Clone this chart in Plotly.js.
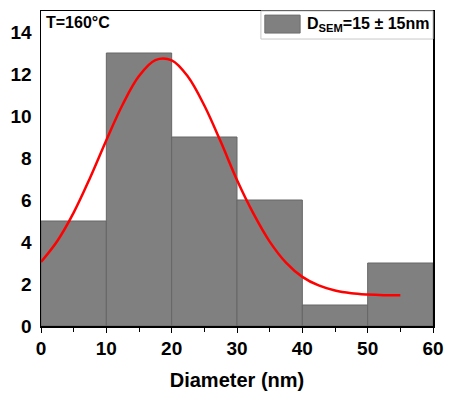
<!DOCTYPE html>
<html>
<head>
<meta charset="utf-8">
<script src="https://cdn.plot.ly/plotly-3.0.1.min.js"></script>
<style>html,body{margin:0;padding:0;background:#fff;}#chart{width:450px;height:402px;}</style>
</head>
<body>
<div id="chart"></div>
<script>
// Histogram bins (nm) and counts
const binCenters = [5, 15, 25, 35, 45, 55];
const counts = [5, 13, 9, 6, 1, 3];

// Fitted curve
const fitX = [0, 2.5, 5, 7.5, 10, 12.5, 15, 17.5, 20, 22.5, 25, 27.5, 30, 32.5, 35, 37.5, 40, 42.5, 45, 47.5, 50, 52.5, 55];
const fitY = [3.05, 4.05, 5.4, 7.05, 8.85, 10.55, 11.9, 12.66, 12.65, 11.87, 10.5, 8.78, 6.95, 5.36, 4.02, 3.02, 2.34, 1.93, 1.69, 1.56, 1.5, 1.47, 1.46];

const xTicks = [0, 10, 20, 30, 40, 50, 60];
const yTicks = [0, 2, 4, 6, 8, 10, 12, 14];

const font = 'Liberation Sans, Arial, sans-serif';

const traces = [
  {
    type: 'bar', x: binCenters, y: counts, width: 10,
    marker: {color: '#808080', line: {color: '#666666', width: 1}},
    showlegend: false, hoverinfo: 'x+y'
  },
  {
    type: 'scatter', mode: 'lines', x: fitX, y: fitY,
    line: {color: '#ff0000', width: 2.5, shape: 'spline'},
    showlegend: false
  }
];

const layout = {
  width: 450, height: 402,
  margin: {l: 41, r: 17, t: 11, b: 76},
  paper_bgcolor: '#ffffff', plot_bgcolor: '#ffffff',
  bargap: 0,
  font: {family: font, color: '#000'},
  xaxis: {
    range: [0, 60], tickvals: xTicks, ticktext: xTicks.map(String),
    showgrid: false, zeroline: false,
    showline: true, linecolor: '#000', linewidth: 1.5, mirror: true,
    ticks: 'outside', ticklen: 5, tickwidth: 1, tickcolor: '#000',
    minor: {dtick: 5, ticks: 'outside', ticklen: 4, tickwidth: 1, tickcolor: '#000'},
    tickfont: {family: font, size: 19, color: '#000', weight: 'bold'},
    title: {text: '<b>Diameter (nm)</b>', font: {family: font, size: 20, color: '#000'}, standoff: 14}
  },
  yaxis: {
    range: [0, 15], tickvals: yTicks, ticktext: yTicks.map(String),
    showgrid: false, zeroline: false,
    showline: true, linecolor: '#000', linewidth: 1.5, mirror: true,
    ticks: '', ticklabelstandoff: 4,
    tickfont: {family: font, size: 19, color: '#000', weight: 'bold'}
  },
  shapes: [
    {type: 'rect', xref: 'paper', yref: 'paper', x0: 0.561, x1: 1, y0: 0.911, y1: 1,
     line: {color: '#c8c8c8', width: 1}, fillcolor: '#ffffff', layer: 'above'},
    {type: 'rect', xref: 'paper', yref: 'paper', x0: 0.571, x1: 0.661, y0: 0.93, y1: 0.987,
     line: {color: '#6e6e6e', width: 1}, fillcolor: '#808080', layer: 'above'}
  ],
  annotations: [
    {xref: 'paper', yref: 'paper', x: 0.008, y: 0.997, xanchor: 'left', yanchor: 'top',
     text: '<b>T=160°C</b>', showarrow: false, font: {family: font, size: 16, color: '#000'}},
    {xref: 'paper', yref: 'paper', x: 0.673, y: 0.958, xanchor: 'left', yanchor: 'middle',
     text: '<b>D<sub>SEM</sub>=15 ± 15nm</b>', showarrow: false, font: {family: font, size: 16, color: '#000'}}
  ]
};

Plotly.newPlot('chart', traces, layout, {displayModeBar: false, staticPlot: true});
</script>
</body>
</html>
